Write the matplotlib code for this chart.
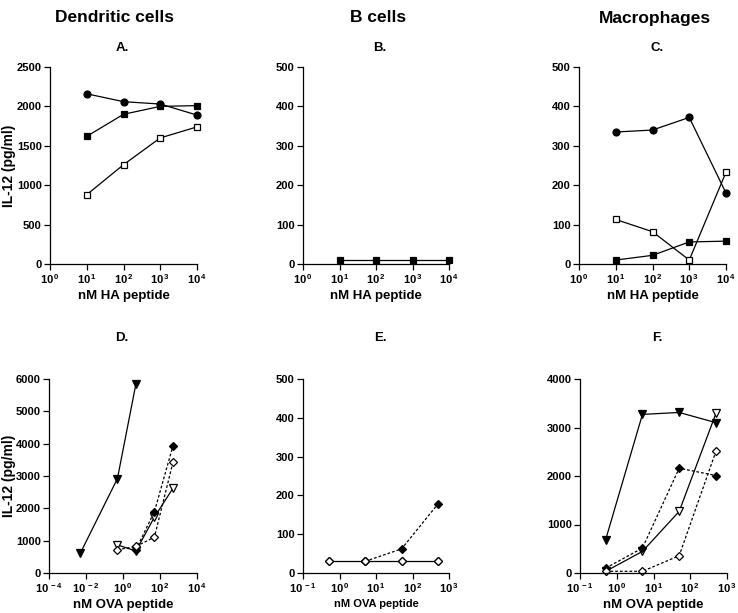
import numpy as np
import matplotlib
matplotlib.use("Agg")
import matplotlib.pyplot as plt
from matplotlib.ticker import FixedLocator, FuncFormatter, NullLocator, MultipleLocator

plt.rcParams['font.family'] = ['Liberation Sans', 'DejaVu Sans']
plt.rcParams['font.weight'] = 'bold'
plt.rcParams['mathtext.fontset'] = 'custom'
plt.rcParams['mathtext.rm'] = 'Liberation Sans:bold'
plt.rcParams['mathtext.bf'] = 'Liberation Sans:bold'

# ---- data ----
columns = ["Dendritic cells", "B cells", "Macrophages"]
panel_letters = ["A.", "B.", "C.", "D.", "E.", "F."]

ha_dose = [10, 100, 1000, 10000]
ova_dose = [0.5, 5, 50, 500]

# A: dendritic cells, HA
a_filled_circle = [2160, 2060, 2030, 1890]
a_filled_square = [1620, 1900, 2000, 2010]
a_open_square = [880, 1260, 1600, 1740]

# B: B cells, HA
b_filled_square = [10, 10, 10, 10]

# C: macrophages, HA
c_filled_circle = [335, 340, 372, 180]
c_open_square = [113, 82, 10, 233]
c_filled_square = [10, 22, 56, 58]

# D: dendritic cells, OVA
d_tri_dose = [0.005, 0.5, 5]
d_filled_tri = [620, 2920, 5850]
d_open_tri = [870, 680, 1730, 2620]
d_fdia_dose = [5, 50, 500]
d_filled_dia = [720, 1900, 3930]
d_open_dia = [720, 820, 1110, 3420]

# E: B cells, OVA
e_open_dia = [30, 30, 30, 30]
e_fdia_dose = [5, 50, 500]
e_filled_dia = [30, 62, 178]

# F: macrophages, OVA
f_filled_tri = [690, 3270, 3310, 3100]
f_open_tri = [35, 445, 1270, 3290]
f_filled_dia = [100, 515, 2160, 2010]
f_open_dia = [35, 35, 356, 2510]

fig = plt.figure(figsize=(7.38, 6.13), dpi=100)
W, H = 738, 613


def make_ax(l, r, t, b):
    return fig.add_axes([l / W, (H - b) / H, (r - l) / W, (b - t) / H])


def style(ax, xlim, ylim, ystep, xlabel, xstep=1, xlabel_size=9.5):
    ax.set_xscale('log')
    ax.set_xlim(*xlim)
    ax.set_ylim(*ylim)
    lo, hi = int(round(np.log10(xlim[0]))), int(round(np.log10(xlim[1])))
    ax.xaxis.set_major_locator(FixedLocator([10.0 ** k for k in range(lo, hi + 1, xstep)]))
    ax.xaxis.set_minor_locator(NullLocator())
    ax.xaxis.set_major_formatter(FuncFormatter(lambda v, p: r'$\mathbf{10^{\,%d}}$' % round(np.log10(v))))
    ax.yaxis.set_major_locator(MultipleLocator(ystep))
    for s in ['top', 'right']:
        ax.spines[s].set_visible(False)
    for s in ['left', 'bottom']:
        ax.spines[s].set_linewidth(0.9)
    ax.tick_params(direction='out', length=4, width=0.9, labelsize=8, pad=2)
    for lab in ax.get_yticklabels():
        lab.set_fontweight('bold')
    ax.set_xlabel(xlabel, fontsize=xlabel_size, fontweight='bold', labelpad=3)


def line(ax, x, y, marker, filled, ls='-', ms=5):
    ax.plot(x, y, color='black', lw=0.9, ls=ls, marker=marker, ms=ms,
            mfc='black' if filled else 'white', mec='black', mew=0.9, clip_on=False)


def ylab(ax, left_px):
    ax.set_ylabel('IL-12 (pg/ml)', fontsize=10, fontweight='bold')
    ax.yaxis.set_label_coords((16 - left_px) / (197 - left_px), 0.5)


dot = (0, (2.2, 1.6))

# ---- row 1 ----
axA = make_ax(50, 197, 67, 264)
line(axA, ha_dose, a_filled_circle, 'o', True)
line(axA, ha_dose, a_filled_square, 's', True)
line(axA, ha_dose, a_open_square, 's', False)
style(axA, (1, 1e4), (0, 2500), 500, 'nM HA peptide')
ylab(axA, 50)

axB = make_ax(303, 449, 67, 264)
line(axB, ha_dose, b_filled_square, 's', True)
style(axB, (1, 1e4), (0, 500), 100, 'nM HA peptide')

axC = make_ax(579, 726, 67, 264)
line(axC, ha_dose, c_filled_circle, 'o', True)
line(axC, ha_dose, c_open_square, 's', False)
line(axC, ha_dose, c_filled_square, 's', True)
style(axC, (1, 1e4), (0, 500), 100, 'nM HA peptide')

# ---- row 2 ----
axD = make_ax(49, 197, 379, 573)
line(axD, d_tri_dose, d_filled_tri, 'v', True, ms=5.5)
line(axD, ova_dose, d_open_tri, 'v', False, ms=5.5)
line(axD, d_fdia_dose, d_filled_dia, 'D', True, ls=dot, ms=4.3)
line(axD, ova_dose, d_open_dia, 'D', False, ls=dot, ms=4.3)
style(axD, (1e-4, 1e4), (0, 6000), 1000, 'nM OVA peptide', xstep=2)
ylab(axD, 49)

axE = make_ax(303, 449, 379, 573)
line(axE, ova_dose, e_open_dia, 'D', False, ms=4.3)
line(axE, e_fdia_dose, e_filled_dia, 'D', True, ls=dot, ms=4.3)
line(axE, ova_dose, e_open_dia, 'D', False, ls='none', ms=4.3)
style(axE, (0.1, 1e3), (0, 500), 100, 'nM OVA peptide', xlabel_size=8)

axF = make_ax(580, 727, 379, 573)
line(axF, ova_dose, f_filled_tri, 'v', True, ms=5.5)
line(axF, ova_dose, f_open_tri, 'v', False, ms=5.5)
line(axF, ova_dose, f_filled_dia, 'D', True, ls=dot, ms=4.3)
line(axF, ova_dose, f_open_dia, 'D', False, ls=dot, ms=4.3)
style(axF, (0.1, 1e3), (0, 4000), 1000, 'nM OVA peptide')

# ---- headers ----
for x, txt in zip([115, 378, 655], columns):
    fig.text(x / W, 1 - 18 / H, txt, ha='center', va='center', fontsize=12.5, fontweight='bold')
for (x, y), txt in zip([(122, 48), (380, 48), (657, 48), (122, 338), (380, 338), (657, 338)], panel_letters):
    fig.text(x / W, 1 - y / H, txt, ha='center', va='center', fontsize=9.5, fontweight='bold')

fig.savefig('out.png', dpi=100)
